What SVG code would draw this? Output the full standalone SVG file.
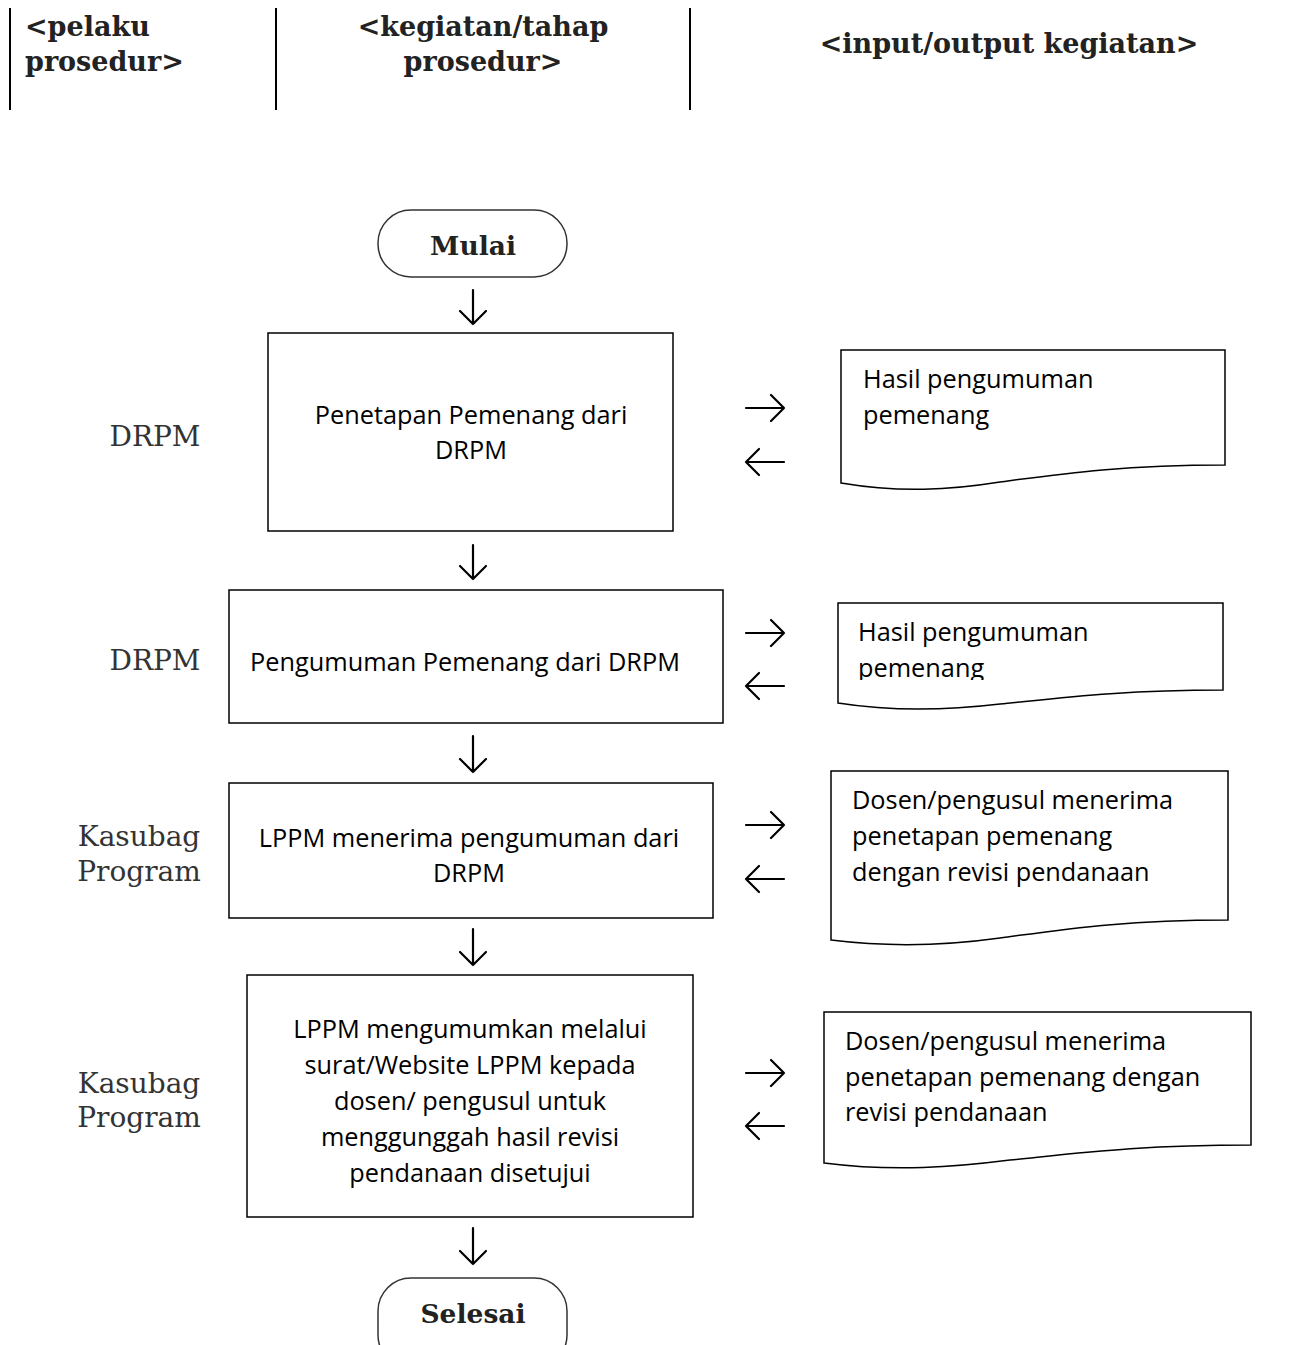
<svg xmlns="http://www.w3.org/2000/svg" width="1295" height="1345" viewBox="0 0 1295 1345">
<defs>
<style>
.hdr{font-family:"DejaVu Serif","Liberation Serif",serif;font-weight:bold;font-size:27px;fill:#222}
.lbl{font-family:"DejaVu Serif","Liberation Serif",serif;font-size:28px;fill:#333}
.term{font-family:"DejaVu Serif","Liberation Serif",serif;font-weight:bold;font-size:26.5px;fill:#222}
.txt{font-family:"Open Sans","Liberation Sans",sans-serif;font-size:25.3px;fill:#000}
.shape{fill:#fff;stroke:#000;stroke-width:1.5}
.tshape{fill:#fff;stroke:#333;stroke-width:1.5}
.ar{fill:none;stroke:#000;stroke-width:2.2;stroke-linecap:round;stroke-linejoin:round}
.sep{stroke:#000;stroke-width:2}
</style>
<clipPath id="clipDoc2"><rect x="838" y="603" width="390" height="77"/></clipPath>
</defs>

<g id="header">
<line class="sep" x1="10" y1="8" x2="10" y2="110"/>
<line class="sep" x1="276" y1="8" x2="276" y2="110"/>
<line class="sep" x1="690" y1="8" x2="690" y2="110"/>
<text class="hdr" x="25" y="36">&lt;pelaku</text>
<text class="hdr" x="25" y="71">prosedur&gt;</text>
<text class="hdr" x="483" y="36" text-anchor="middle">&lt;kegiatan/tahap</text>
<text class="hdr" x="483" y="71" text-anchor="middle">prosedur&gt;</text>
<text class="hdr" x="1009" y="53" text-anchor="middle">&lt;input/output kegiatan&gt;</text>
</g>

<g id="actors">
<text class="lbl" x="155" y="446" text-anchor="middle">DRPM</text>
<text class="lbl" x="155" y="670" text-anchor="middle">DRPM</text>
<text class="lbl" x="139" y="846" text-anchor="middle">Kasubag</text>
<text class="lbl" x="139" y="881" text-anchor="middle">Program</text>
<text class="lbl" x="139" y="1093" text-anchor="middle">Kasubag</text>
<text class="lbl" x="139" y="1127" text-anchor="middle">Program</text>
</g>

<g id="start">
<rect class="tshape" x="378" y="210" width="189" height="67" rx="33" ry="33"/>
<text class="term" x="473" y="255" text-anchor="middle">Mulai</text>
</g>

<g id="step1">
<rect class="shape" x="268" y="333" width="405" height="198"/>
<text class="txt" x="471" y="424" text-anchor="middle">Penetapan Pemenang dari</text>
<text class="txt" x="471" y="459" text-anchor="middle">DRPM</text>
</g>

<g id="step2">
<rect class="shape" x="229" y="590" width="494" height="133"/>
<text class="txt" x="465" y="671" text-anchor="middle">Pengumuman Pemenang dari DRPM</text>
</g>

<g id="step3">
<rect class="shape" x="229" y="783" width="484" height="135"/>
<text class="txt" x="469" y="847" text-anchor="middle">LPPM menerima pengumuman dari</text>
<text class="txt" x="469" y="882" text-anchor="middle">DRPM</text>
</g>

<g id="step4">
<rect class="shape" x="247" y="975" width="446" height="242"/>
<text class="txt" x="470" y="1038" text-anchor="middle">LPPM mengumumkan melalui</text>
<text class="txt" x="470" y="1074" text-anchor="middle">surat/Website LPPM kepada</text>
<text class="txt" x="470" y="1110" text-anchor="middle">dosen/ pengusul untuk</text>
<text class="txt" x="470" y="1146" text-anchor="middle">menggunggah hasil revisi</text>
<text class="txt" x="470" y="1182" text-anchor="middle">pendanaan disetujui</text>
</g>

<g id="end">
<rect class="tshape" x="378" y="1278" width="189" height="90" rx="33" ry="33"/>
<text class="term" x="473" y="1323" text-anchor="middle">Selesai</text>
</g>

<g id="doc1">
<path class="shape" d="M841,350 H1225 V465 C1120,465 1060,474 1000,482 C950,490 900,493 841,483 Z"/>
<text class="txt" x="863" y="388">Hasil pengumuman</text>
<text class="txt" x="863" y="424">pemenang</text>
</g>

<g id="doc2">
<path class="shape" d="M838,603 H1223 V690 C1120,690 1060,698 1000,704 C950,710 895,712 838,703 Z"/>
<g clip-path="url(#clipDoc2)">
<text class="txt" x="858" y="641">Hasil pengumuman</text>
<text class="txt" x="858" y="677">pemenang</text>
</g>
</g>

<g id="doc3">
<path class="shape" d="M831,771 H1228 V920 C1120,920 1060,930 1000,938 C950,945 895,948 831,940 Z"/>
<text class="txt" x="852" y="809">Dosen/pengusul menerima</text>
<text class="txt" x="852" y="845">penetapan pemenang</text>
<text class="txt" x="852" y="881">dengan revisi pendanaan</text>
</g>

<g id="doc4">
<path class="shape" d="M824,1012 H1251 V1145 C1140,1145 1080,1153 1010,1160 C955,1167 895,1172 824,1163 Z"/>
<text class="txt" x="845" y="1050">Dosen/pengusul menerima</text>
<text class="txt" x="845" y="1086">penetapan pemenang dengan</text>
<text class="txt" x="845" y="1121">revisi pendanaan</text>
</g>

<g id="connectors">
<path class="ar" d="M473,290 V324 M460,311 L473,324 L486,311"/>
<path class="ar" d="M473,545 V579 M460,566 L473,579 L486,566"/>
<path class="ar" d="M473,736 V772 M460,759 L473,772 L486,759"/>
<path class="ar" d="M473,929 V965 M460,952 L473,965 L486,952"/>
<path class="ar" d="M473,1228 V1264 M460,1251 L473,1264 L486,1251"/>

<path class="ar" d="M746,408 H784 M771,395 L784,408 L771,421"/>
<path class="ar" d="M746,462 H784 M759,449 L746,462 L759,475"/>
<path class="ar" d="M746,633 H784 M771,620 L784,633 L771,646"/>
<path class="ar" d="M746,686 H784 M759,673 L746,686 L759,699"/>
<path class="ar" d="M746,825 H784 M771,812 L784,825 L771,838"/>
<path class="ar" d="M746,879 H784 M759,866 L746,879 L759,892"/>
<path class="ar" d="M746,1073 H784 M771,1060 L784,1073 L771,1086"/>
<path class="ar" d="M746,1126 H784 M759,1113 L746,1126 L759,1139"/>
</g>
</svg>
